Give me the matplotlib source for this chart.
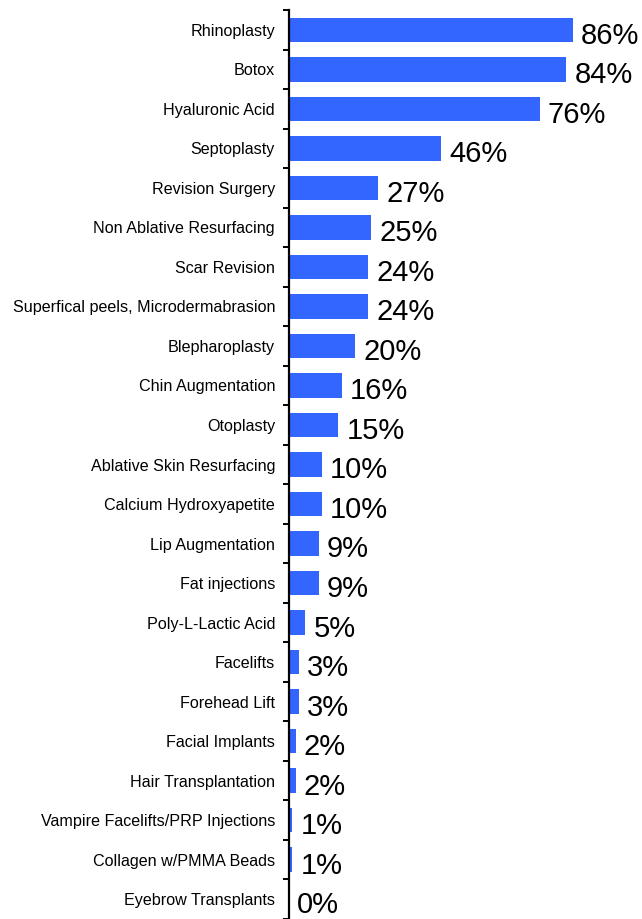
import matplotlib
matplotlib.use("Agg")
import matplotlib.pyplot as plt
from matplotlib.ticker import FixedLocator

plt.rcParams["font.family"] = ["Liberation Sans", "DejaVu Sans"]

procedures = [
    "Rhinoplasty", "Botox", "Hyaluronic Acid", "Septoplasty", "Revision Surgery",
    "Non Ablative Resurfacing", "Scar Revision", "Superfical peels, Microdermabrasion",
    "Blepharoplasty", "Chin Augmentation", "Otoplasty", "Ablative Skin Resurfacing",
    "Calcium Hydroxyapetite", "Lip Augmentation", "Fat injections", "Poly-L-Lactic Acid",
    "Facelifts", "Forehead Lift", "Facial Implants", "Hair Transplantation",
    "Vampire Facelifts/PRP Injections", "Collagen w/PMMA Beads", "Eyebrow Transplants",
]
percent = [86, 84, 76, 46, 27, 25, 24, 24, 20, 16, 15, 10, 10, 9, 9, 5, 3, 3, 2, 2, 1, 1, 0]

fig = plt.figure(figsize=(6.42, 9.19), dpi=100)
ax = fig.add_axes([0.450, 0.0, 0.550, 1 - 10 / 919])

y = list(range(len(procedures)))
ax.barh(y, percent, height=0.62, color="#3366FF", zorder=2)

for yi, v in zip(y, percent):
    ax.text(v + 2.5, yi + 0.15, f"{v}%", va="center", ha="left", fontsize=21, color="black")

ax.set_xlim(0, 107)
ax.set_ylim(len(procedures) - 0.5, -0.5)

ax.set_yticks(y)
ax.set_yticklabels(procedures, fontsize=11.6)
ax.tick_params(axis="y", which="major", length=0, pad=10)
ax.yaxis.set_minor_locator(FixedLocator([i - 0.5 for i in range(len(procedures) + 1)]))
ax.tick_params(axis="y", which="minor", length=4, width=1.4, direction="out")
ax.set_xticks([])

for side in ["top", "right", "bottom"]:
    ax.spines[side].set_visible(False)
ax.spines["left"].set_linewidth(1.6)
ax.spines["left"].set_zorder(3)

fig.savefig("out.png", dpi=100)
